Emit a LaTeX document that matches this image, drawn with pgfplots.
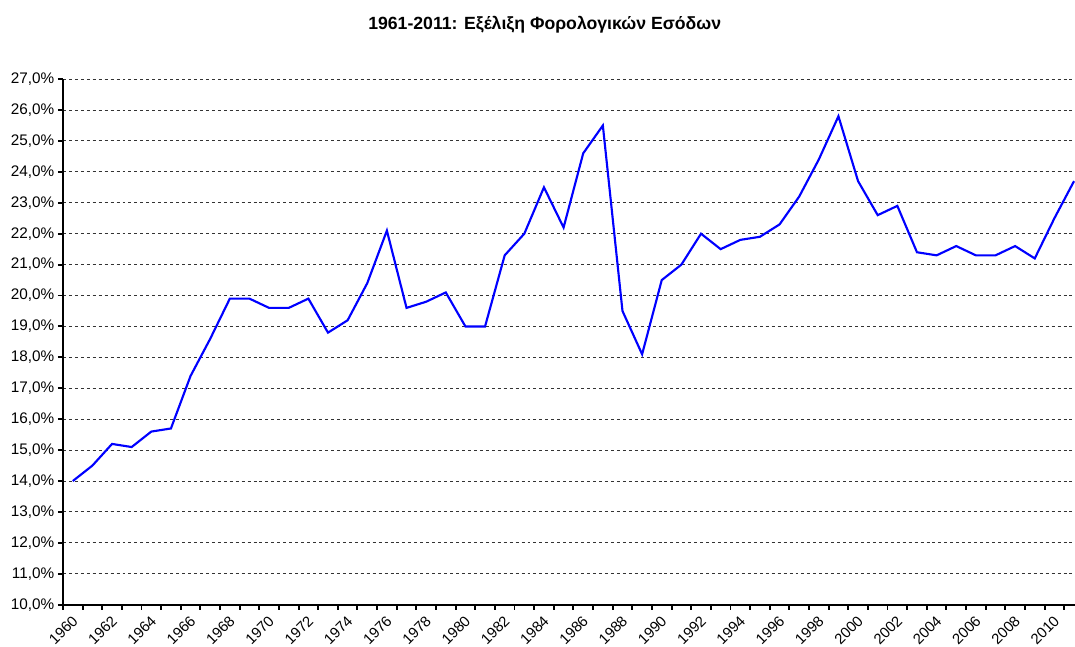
\documentclass[border=0pt]{standalone}
\usepackage{fontspec}
\setmainfont{Liberation Sans}
\usepackage{pgfplots}
\pgfplotsset{compat=1.18}
\usetikzlibrary{calc}

% tax revenue, % of GDP
\pgfplotstableread{
year val
1960 14.0
1961 14.5
1962 15.2
1963 15.1
1964 15.6
1965 15.7
1966 17.4
1967 18.6
1968 19.9
1969 19.9
1970 19.6
1971 19.6
1972 19.9
1973 18.8
1974 19.2
1975 20.4
1976 22.1
1977 19.6
1978 19.8
1979 20.1
1980 19.0
1981 19.0
1982 21.3
1983 22.0
1984 23.5
1985 22.2
1986 24.6
1987 25.5
1988 19.5
1989 18.1
1990 20.5
1991 21.0
1992 22.0
1993 21.5
1994 21.8
1995 21.9
1996 22.3
1997 23.2
1998 24.4
1999 25.8
2000 23.7
2001 22.6
2002 22.9
2003 21.4
2004 21.3
2005 21.6
2006 21.3
2007 21.3
2008 21.6
2009 21.2
2010 22.5
2011 23.7
}\taxdata

\begin{document}
\begin{tikzpicture}
\begin{axis}[
  name=ax,
  scale only axis,
  width=475.8pt, height=247.1pt,
  xmin=1959.5, xmax=2011.05,
  ymin=10, ymax=27,
  axis x line=bottom, axis y line=left,
  axis line style={line width=1pt, -},
  xtick={1960,1962,...,2010},
  major x tick style={draw=none},
  minor xtick={1959.5,1960.5,...,2011},
  minor x tick style={line width=0.9pt, black},
  minor tick length=2.4pt,
  xtick align=outside,
  xticklabel style={rotate=45, anchor=north east, font=\fontsize{7}{8}\selectfont, inner sep=1pt, xshift=-1pt},
  xticklabel={\pgfmathprintnumber[1000 sep={},assume math mode=true]{\tick}},
  ytick={10,11,...,27},
  ytick align=outside,
  major y tick style={line width=0.9pt, black},
  major tick length=2.4pt,
  yticklabel style={font=\fontsize{7.2}{8}\selectfont, inner sep=1.5pt},
  yticklabel={\pgfmathprintnumber[fixed,fixed zerofill,precision=1,use comma,assume math mode=true]{\tick}\%},
  ymajorgrids,
  grid style={black!80, line width=0.45pt, dash pattern=on 1.4pt off 1.4pt},
  clip=false,
]
\addplot[color={rgb,255:red,0;green,0;blue,255}, line width=1pt, mark=none] table[x=year, y=val] {\taxdata};
\end{axis}
\node[font=\bfseries\fontsize{8.3}{9}\selectfont, anchor=center] at ($(ax.north west)!0.476!(ax.north east)+(0,25.7pt)$) {1961-2011: Εξέλιξη Φορολογικών Εσόδων};
\pgfresetboundingbox
\useasboundingbox ($(ax.south west)+(-29.6pt,-19.8pt)$) rectangle ($(ax.north east)+(0,37.2pt)$);
\end{tikzpicture}
\end{document}
